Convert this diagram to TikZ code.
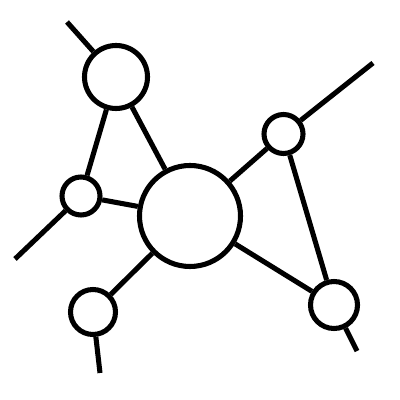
\documentclass[tikz,border=0pt]{standalone}
\begin{document}
\begin{tikzpicture}[line width=3.6pt,
    vtx/.style={circle, draw, inner sep=0pt, fill=white}]
    \useasboundingbox (0,0) rectangle (10,10);
    \node[vtx, minimum size=2.525cm] (hub) at (4.75,4.6){};
    \node[vtx, minimum size=1.575cm] (top) at (2.9,8.075){};
    \node[vtx, minimum size=0.95cm] (left) at (2.025,5.1){};
    \node[vtx, minimum size=0.975cm] (rup) at (7.0875,6.65){};
    \node[vtx, minimum size=1.125cm] (bleft) at (2.325,2.2){};
    \node[vtx, minimum size=1.175cm] (bright) at (8.35,2.375){};
    \coordinate (etop) at (1.675,9.45);
    \coordinate (eleft) at (0.375,3.525);
    \coordinate (erup) at (9.325,8.425);
    \coordinate (ebleft) at (2.5,0.675);
    \coordinate (ebright) at (8.925,1.225);
    \draw[](top) -- (etop);
    \draw[](top) -- (left);
    \draw[](top) -- (hub);
    \draw[](left) -- (hub);
    \draw[](left) -- (eleft);
    \draw[](hub) -- (rup);
    \draw[](rup) -- (erup);
    \draw[](rup) -- (bright);
    \draw[](hub) -- (bright);
    \draw[](hub) -- (bleft);
    \draw[](bleft) -- (ebleft);
    \draw[](bright) -- (ebright);
  \end{tikzpicture}
\end{document}
